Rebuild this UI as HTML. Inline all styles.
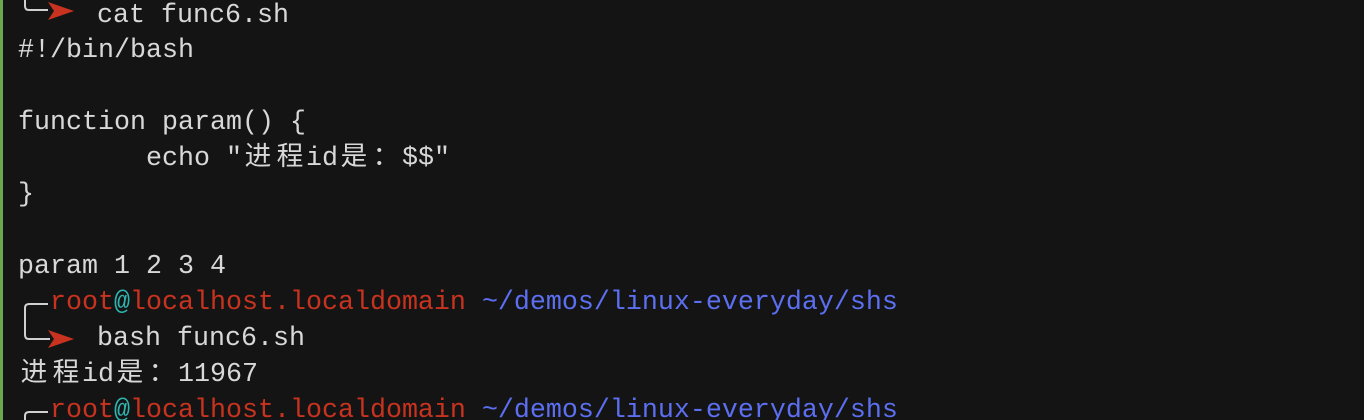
<!DOCTYPE html>
<html><head><meta charset="utf-8"><style>
html,body{margin:0;width:1364px;height:420px;background:#141414;overflow:hidden;position:relative;}
.l{position:absolute;left:18px;height:36px;line-height:36px;font-family:"Liberation Mono","Noto Sans CJK SC",monospace;font-size:26.67px;color:#d8d8d8;white-space:pre;}
.c{display:inline-block;width:32px;text-align:center;}
.r{color:#c8331f}.a{color:#2fb5b0}.b{color:#5b6ff0}
#bar{position:absolute;left:0;top:0;width:3px;height:420px;background:#6aa84f}
</style></head><body>
<div id="bar"></div>
<svg width="1364" height="420" style="position:absolute;left:0;top:0">
<g stroke="#d0d0d0" stroke-width="2" fill="none">
<path d="M25 -20 V6 Q25 10 29 10 H48"/>
<path d="M48 304 H29 Q25 304 25 308 V335 Q25 339 29 339 H50"/>
<path d="M48 412 H29 Q25 412 25 416 V430"/>
</g>
<g fill="#c8331f">
<path d="M48 2 L74 11 L48 20 L54 11 Z"/>
<path d="M48 330 L74 339 L48 348 L54 339 Z"/>
</g>
</svg>
<div class="l" style="top:-2px;left:97px">cat func6.sh</div>
<div class="l" style="top:33px">#!/bin/bash</div>
<div class="l" style="top:105px">function param() {</div>
<div class="l" style="top:141px">        echo "<span class="c">进</span><span class="c">程</span>id<span class="c">是</span><span class="c">：</span>$$"</div>
<div class="l" style="top:177px">}</div>
<div class="l" style="top:249px">param 1 2 3 4</div>
<div class="l" style="top:285px;left:50px"><span class="r">root</span><span class="a">@</span><span class="r">localhost.localdomain</span> <span class="b">~/demos/linux-everyday/shs</span></div>
<div class="l" style="top:321px;left:97px">bash func6.sh</div>
<div class="l" style="top:357px"><span class="c">进</span><span class="c">程</span>id<span class="c">是</span><span class="c">：</span>11967</div>
<div class="l" style="top:393px;left:50px"><span class="r">root</span><span class="a">@</span><span class="r">localhost.localdomain</span> <span class="b">~/demos/linux-everyday/shs</span></div>
</body></html>
